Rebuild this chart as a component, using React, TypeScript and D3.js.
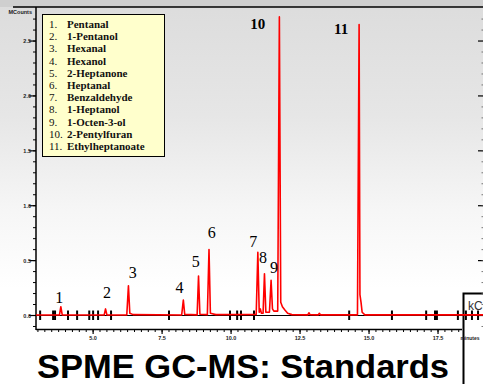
import * as d3 from 'd3'

const W = 483
const H = 384

// legend entries
const compounds = [
  'Pentanal', '1-Pentanol', 'Hexanal', 'Hexanol', '2-Heptanone', 'Heptanal',
  'Benzaldehyde', '1-Heptanol', '1-Octen-3-ol', '2-Pentylfuran', 'Ethylheptanoate',
]

// chromatogram trace: [minutes, MCounts]
const trace: [number, number][] = [
  [2.93, 0.004], [3.78, 0.004], [3.83, 0.08], [3.88, 0.006], [5.4, 0.004], [5.45, 0.06], [5.5, 0.006],
  [6.22, 0.005], [6.28, 0.27], [6.33, 0.02], [6.45, 0.008], [8.21, 0.005], [8.27, 0.14], [8.32, 0.01],
  [8.77, 0.006], [8.82, 0.36], [8.87, 0.012], [9.14, 0.008], [9.2, 0.6], [9.25, 0.02], [9.45, 0.008],
  [10.91, 0.01], [10.97, 0.575], [11.02, 0.03], [11.06, 0.06], [11.1, 0.02], [11.16, 0.02], [11.21, 0.38],
  [11.26, 0.03], [11.39, 0.03], [11.45, 0.32], [11.5, 0.06], [11.55, 0.04], [11.69, 0.04], [11.75, 2.72],
  [11.8, 0.12], [11.86, 0.08], [11.95, 0.05], [12.05, 0.02], [12.2, 0.008], [12.78, 0.006], [12.82, 0.025],
  [12.86, 0.008], [13.16, 0.006], [13.2, 0.02], [13.24, 0.006], [14.58, 0.006], [14.64, 2.65], [14.67, 0.19],
  [14.71, 0.12], [14.75, 0.03], [14.85, 0.006], [16.5, 0.006], [19.13, 0.006],
]

// peak number annotations: where each number sits, in data units
const peakLabels = ['1', '2', '3', '4', '5', '6', '7', '8', '9', '10', '11']
const labelTimes = [3.77, 5.5, 6.44, 8.13, 8.72, 9.3, 10.8, 11.16, 11.56, 10.97, 13.99]
const labelValues = [0.114, 0.159, 0.342, 0.205, 0.442, 0.706, 0.624, 0.478, 0.387, 2.61, 2.56]

// integration event markers on the baseline
const eventTimes = [
  3.08, 3.55, 3.62, 4.09, 4.42, 4.86, 5.0, 5.18, 5.65, 7.75, 9.96, 10.22, 10.36, 10.83,
  14.28, 15.83, 17.07, 17.39, 17.46, 18.22, 18.51, 18.73, 18.95,
]

const xTicks = [5, 7.5, 10, 12.5, 15, 17.5]
const yTicks = [0, 0.5, 1, 1.5, 2, 2.5]

const SANS = "'Liberation Sans', Arial, sans-serif"
const SERIF = "'Liberation Serif', 'Times New Roman', serif"

export default function App() {
  const x = d3.scaleLinear().domain([2.93, 19.13]).range([36, 483])
  const y = d3.scaleLinear().domain([-0.132, 2.81]).range([330, 7])

  const line = d3.line<[number, number]>()
    .x(d => x(d[0]))
    .y(d => y(d[1]))

  const xMinor = d3.range(3, 18.6, 0.25)
  const yMinor = d3.range(-0.1, 2.75, 0.1)
  const axisEnd = 462

  return (
    <div style={{ position: 'fixed', left: 0, top: 0 }}>
      <svg width={W} height={H} style={{ display: 'block' }}>
        <defs>
          <linearGradient id="bg" x1="0" y1="0" x2="0" y2="1">
            <stop offset="0" stopColor="#dcdcdc" />
            <stop offset="0.3" stopColor="#e6e6e6" />
            <stop offset="0.55" stopColor="#f6f6f6" />
            <stop offset="0.75" stopColor="#ffffff" />
          </linearGradient>
        </defs>
        <rect x={0} y={0} width={W} height={H} fill="url(#bg)" />
        <rect x={0} y={0} width={W} height={7} fill="#cfcfcf" />

        {/* kC box from the slide */}
        <rect x={463.5} y={293.5} width={40} height={100} fill="#fff" stroke="#000" strokeWidth={2} />
        <text x={468} y={310} fontFamily={SANS} fontSize={12} fill="#333">kC</text>

        {/* frame */}
        <line x1={13} x2={W} y1={7} y2={7} stroke="#000" strokeWidth={1.5} />
        <line x1={36} x2={36} y1={7} y2={330} stroke="#000" strokeWidth={1.5} />
        <line x1={36} x2={axisEnd} y1={329.5} y2={329.5} stroke="#000" strokeWidth={1.5} />

        {/* y axis */}
        {yMinor.map((v, i) => (
          <line key={'ym' + i} x1={33} x2={36} y1={y(v)} y2={y(v)} stroke="#000" strokeWidth={1} />
        ))}
        {yTicks.map(v => (
          <g key={'y' + v}>
            <line x1={29} x2={36} y1={y(v)} y2={y(v)} stroke="#000" strokeWidth={1.2} />
            <line x1={478} x2={483} y1={y(v)} y2={y(v)} stroke="#000" strokeWidth={1.2} />
            <text x={31} y={y(v) + 2} textAnchor="end" fontFamily={SANS}
              fontSize={5.5} fontWeight="bold" fill="#222">{d3.format('.1f')(v)}</text>
          </g>
        ))}
        {yMinor.map((v, i) => (
          <line key={'yr' + i} x1={481.5} x2={483} y1={y(v)} y2={y(v)} stroke="#555" strokeWidth={0.8} />
        ))}
        <text x={32} y={14} textAnchor="end" fontFamily={SANS}
          fontSize={5.5} fontWeight="bold" fill="#222">MCounts</text>

        {/* x axis */}
        {xMinor.filter(t => x(t) <= axisEnd).map((t, i) => (
          <line key={'xm' + i} x1={x(t)} x2={x(t)} y1={329.5} y2={332} stroke="#000" strokeWidth={1} />
        ))}
        {xTicks.map(t => (
          <g key={'x' + t}>
            <line x1={x(t)} x2={x(t)} y1={329.5} y2={334} stroke="#000" strokeWidth={1.2} />
            <text x={x(t)} y={340} textAnchor="middle" fontFamily={SANS}
              fontSize={5.5} fontWeight="bold" fill="#222">{d3.format('.1f')(t)}</text>
          </g>
        ))}
        <text x={470} y={340} textAnchor="middle" fontFamily={SANS}
          fontSize={5} fontWeight="bold" fill="#222">minutes</text>

        {/* baseline and events */}
        <line x1={36} x2={W} y1={y(0)} y2={y(0)} stroke="#000" strokeWidth={1.2} />
        {eventTimes.map((t, i) => (
          <line key={'e' + i} x1={x(t)} x2={x(t)} y1={y(0) - 5} y2={y(0) + 4.5} stroke="#000" strokeWidth={2} />
        ))}

        {/* trace */}
        <path d={line(trace) ?? ''} fill="none" stroke="#ff0000" strokeWidth={1.6} strokeLinejoin="round" />

        {/* peak labels */}
        {peakLabels.map((s, i) => (
          <text key={'p' + s} x={x(labelTimes[i])} y={y(labelValues[i])} textAnchor="middle"
            fontFamily={SERIF} fontSize={i >= 9 ? 15 : 16}
            fontWeight={i >= 9 ? 'bold' : 'normal'} fill="#000">{s}</text>
        ))}

        {/* legend */}
        <rect x={42.5} y={14.5} width={122} height={142} fill="#ffffcc" stroke="#000" strokeWidth={1} />
        {compounds.map((c, i) => (
          <g key={c} fontFamily={SERIF} fontSize={11} fill="#111">
            <text x={49} y={28 + i * 12.2}>{`${i + 1}.`}</text>
            <text x={67} y={28 + i * 12.2} fontWeight="bold">{c}</text>
          </g>
        ))}

        {/* title */}
        <text x={37} y={378} fontFamily={SANS} fontSize={34}
          fontWeight="bold" fill="#000" textLength={412} lengthAdjust="spacingAndGlyphs">SPME GC-MS: Standards</text>
      </svg>
    </div>
  )
}
